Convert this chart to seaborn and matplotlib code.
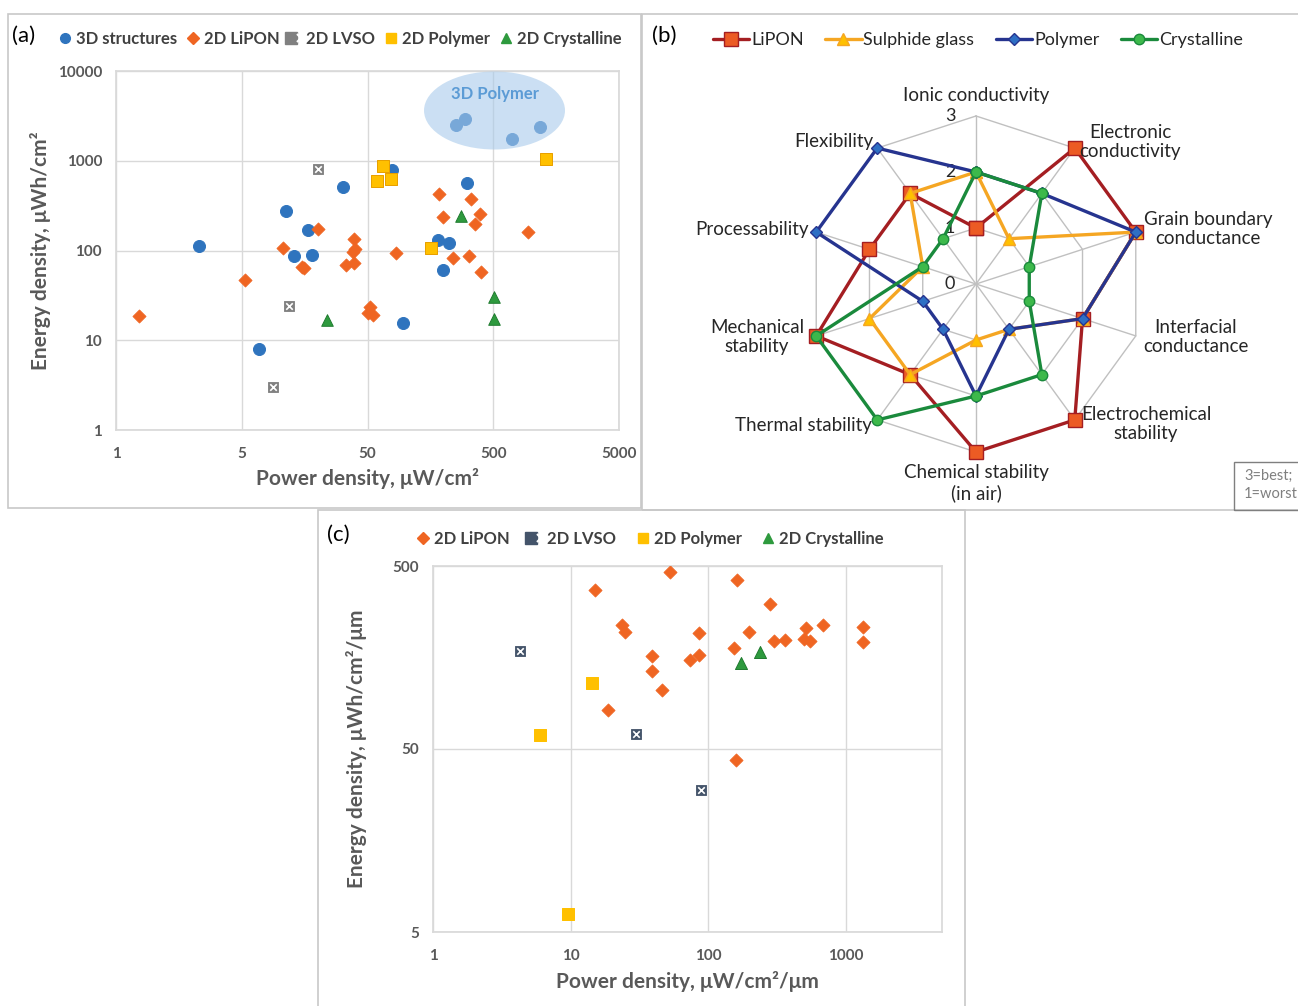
import numpy as np
import matplotlib
matplotlib.use("Agg")
import matplotlib.pyplot as plt
import seaborn as sns
from matplotlib.patches import Ellipse, Rectangle
from matplotlib.lines import Line2D
from matplotlib.legend_handler import HandlerTuple
from matplotlib.ticker import NullLocator, FixedLocator, FixedFormatter

# ---- panel (a): areal energy vs power density ----
a_3d_power = [2.3, 11.2, 16.9, 13.0, 18.2, 32, 6.9, 78, 309, 181, 224, 199, 96, 253, 296, 705, 1183]
a_3d_energy = [112, 277, 171, 87, 90, 510, 7.9, 783, 565, 130, 120, 60, 15.6, 2500, 2920, 1760, 2360]
a_lipon_power = [0.76, 5.3, 10.7, 15.0, 15.7, 20.1, 39, 40, 38.6, 33.7, 39.3, 52.3, 50.2, 55,
                 84, 185, 334, 200, 390, 360, 945, 239, 319, 397]
a_lipon_energy = [18.8, 46.6, 107, 66, 64, 175, 134, 103, 95.5, 69, 73, 23.3, 20, 19.1,
                  93, 423, 372, 234, 255, 197, 162, 83, 87.5, 57.6]
a_lvso_power = [20.1, 11.9, 8.9]
a_lvso_energy = [803, 24.3, 3.0]
a_poly_power = [66.8, 59.8, 76.5, 160, 1306]
a_poly_energy = [874, 600, 626, 107, 1038]
a_cryst_power = [23.9, 275, 510, 510]
a_cryst_energy = [16.8, 242, 30.6, 17.1]
a_xticks = [0.5, 5, 50, 500, 5000]
a_xticklabels = ["1", "5", "50", "500", "5000"]
a_yticks = [1, 10, 100, 1000, 10000]
a_yticklabels = ["1", "10", "100", "1000", "10000"]

# ---- panel (b): radar ----
radar_categories = ["Ionic conductivity", "Electronic\nconductivity", "Grain boundary\nconductance",
                    "Interfacial\nconductance", "Electrochemical\nstability", "Chemical stability\n(in air)",
                    "Thermal stability", "Mechanical\nstability", "Processability", "Flexibility"]
radar_lipon = [1, 3, 3, 2, 3, 3, 2, 3, 2, 2]
radar_sulphide = [2, 1, 3, 2, 1, 1, 2, 2, 1, 2]
radar_polymer = [2, 2, 3, 2, 1, 2, 1, 1, 3, 3]
radar_crystalline = [2, 2, 1, 1, 2, 2, 3, 3, 1, 1]

# ---- panel (c): volumetric energy vs power density ----
c_lipon_power = [52.5, 15.1, 23.6, 25.0, 86.3, 39.3, 38.8, 74.2, 86.3, 46.5, 18.7, 163, 279, 197,
                 154, 299, 361, 517, 494, 549, 683, 1343, 1343, 160]
c_lipon_energy = [462, 371, 237, 218, 214, 161, 134, 153, 163, 105, 81.6, 418, 311, 219,
                  179, 195, 197, 229, 199, 194, 238, 233, 192, 43.7]
c_lvso_power = [4.3, 29.7, 88.2]
c_lvso_energy = [172, 60.4, 29.7]
c_poly_power = [14.2, 6.0, 9.5]
c_poly_energy = [115, 59.6, 6.3]
c_cryst_power = [172, 238]
c_cryst_energy = [148, 169]
c_xticks = [1, 10, 100, 1000]
c_yticks = [5, 50, 500]

BLUE = "#2F74BE"
ORANGE = "#EF6522"
YELLOW = "#FFC000"
GREEN = "#2E9A3E"
GRAY_A = "#808080"
GRAY_C = "#44546A"
TXT = "#595959"

sns.set_theme(style="white")
plt.rcParams["font.family"] = ["Lato", "DejaVu Sans"]

W, H = 1298, 1006
fig = plt.figure(figsize=(W / 100, H / 100), dpi=100)


def rect(l, t, r, b):
    return [l / W, 1 - b / H, (r - l) / W, (b - t) / H]


def fx(x):
    return x / W


def fy(y):
    return 1 - y / H


# panel frames
for (l, t, r, b) in [(8, 14, 641, 508), (642, 14, 1310, 510), (318, 510, 965, 1012)]:
    fig.add_artist(Rectangle((fx(l), fy(b)), (r - l) / W, (b - t) / H, transform=fig.transFigure,
                             fill=False, ec="#C8C8C8", lw=1.2))


def style_log_axes(ax, xt, xl, yt, yl):
    ax.set_xscale("log")
    ax.set_yscale("log")
    ax.xaxis.set_major_locator(FixedLocator(xt))
    ax.xaxis.set_major_formatter(FixedFormatter(xl))
    ax.yaxis.set_major_locator(FixedLocator(yt))
    ax.yaxis.set_major_formatter(FixedFormatter(yl))
    ax.xaxis.set_minor_locator(NullLocator())
    ax.yaxis.set_minor_locator(NullLocator())
    ax.grid(True, which="major", color="#D9D9D9", lw=1)
    ax.tick_params(length=0, labelsize=11, labelcolor=TXT)
    ax.tick_params(axis="x", pad=12)
    ax.tick_params(axis="y", pad=10)
    for s in ax.spines.values():
        s.set_color("#D9D9D9")
    for lab in ax.get_xticklabels() + ax.get_yticklabels():
        lab.set_fontweight("bold")


def lvso(ax, x, y, face):
    sns.scatterplot(x=x, y=y, ax=ax, marker="s", s=60, color=face, edgecolor=face, zorder=3)
    sns.scatterplot(x=x, y=y, ax=ax, marker="x", s=22, color="white", linewidth=1.2, zorder=4)


def lvso_handle(face):
    return (Line2D([], [], ls="", marker="s", ms=8, color=face),
            Line2D([], [], ls="", marker="x", ms=5.5, mew=1.5, color="white"))


# ---------------- (a) ----------------
ax = fig.add_axes(rect(116, 71, 619, 430))
sns.scatterplot(x=a_3d_power, y=a_3d_energy, ax=ax, marker="o", s=75, color=BLUE, edgecolor=BLUE, zorder=3)
sns.scatterplot(x=a_lipon_power, y=a_lipon_energy, ax=ax, marker="D", s=45, color=ORANGE, edgecolor=ORANGE, zorder=3)
lvso(ax, a_lvso_power, a_lvso_energy, GRAY_A)
sns.scatterplot(x=a_poly_power, y=a_poly_energy, ax=ax, marker="s", s=80, color=YELLOW, edgecolor="#E8A000", zorder=3)
sns.scatterplot(x=a_cryst_power, y=a_cryst_energy, ax=ax, marker="^", s=70, color=GREEN, edgecolor="#1E7A2E", zorder=3)
style_log_axes(ax, a_xticks, a_xticklabels, a_yticks, a_yticklabels)
ax.set_xlim(0.5, 5000)
ax.set_ylim(1, 10000)
ax.set_xlabel("Power density, μW/cm²", fontsize=15, fontweight="bold", color=TXT, labelpad=5)
ax.set_ylabel("Energy density, μWh/cm²", fontsize=15, fontweight="bold", color=TXT, labelpad=5)
ax.add_patch(Ellipse((0.7525, 0.89), 0.2803, 0.2173, transform=ax.transAxes,
                     fc="#A9CBEB", ec="none", alpha=0.6, zorder=5))
ax.text(0.7525, 0.935, "3D Polymer", transform=ax.transAxes, ha="center", va="center",
        fontsize=12, fontweight="bold", color="#5B9BD5", zorder=6)

fig.text(fx(12), fy(36), "(a)", fontsize=16, va="center", color="black")
h_a = [Line2D([], [], ls="", marker="o", ms=7, color=BLUE),
       Line2D([], [], ls="", marker="D", ms=6, color=ORANGE),
       lvso_handle(GRAY_A),
       Line2D([], [], ls="", marker="s", ms=7, color=YELLOW),
       Line2D([], [], ls="", marker="^", ms=7, color=GREEN)]
leg = fig.legend(h_a, ["3D structures", "2D LiPON", "2D LVSO", "2D Polymer", "2D Crystalline"],
                 loc="center", bbox_to_anchor=(fx(340), fy(39)), ncol=5, frameon=False,
                 handlelength=0.8, handletextpad=0.25, columnspacing=0.55, fontsize=12,
                 handler_map={tuple: HandlerTuple(ndivide=None)})
for t in leg.get_texts():
    t.set_fontweight("bold")
    t.set_color("#404040")

# ---------------- (b) radar ----------------
axr = fig.add_axes(rect(808, 116, 1144, 452), projection="polar")
axr.set_theta_zero_location("N")
axr.set_theta_direction(-1)
n = len(radar_categories)
theta = np.linspace(0, 2 * np.pi, n, endpoint=False)
theta_c = np.append(theta, theta[0])
for r in [1, 2, 3]:
    axr.plot(theta_c, [r] * (n + 1), color="#C0C0C0", lw=1, zorder=1, clip_on=False)
for t in theta:
    axr.plot([t, t], [0, 3], color="#C0C0C0", lw=1, zorder=1, clip_on=False)

series = [
    ("LiPON", radar_lipon, "#A41E22", "s", 10, "#EC5B24", "#A41E22"),
    ("Sulphide glass", radar_sulphide, "#F5A623", "^", 9, "#FFC000", "#F5A623"),
    ("Polymer", radar_polymer, "#26348F", "D", 6.5, "#2E6FC4", "#26348F"),
    ("Crystalline", radar_crystalline, "#1A8A3C", "o", 7.5, "#3DB94B", "#1A8A3C"),
]
h_b = []
for i, (name, vals, lc, mk, ms, mfc, mec) in enumerate(series):
    sns.lineplot(x=theta_c, y=vals + vals[:1], ax=axr, sort=False, estimator=None, color=lc, lw=2.4,
                 marker=mk, markersize=ms, markerfacecolor=mfc, markeredgecolor=mec,
                 markeredgewidth=1, zorder=3 + i, clip_on=False)
    h_b.append(Line2D([], [], color=lc, lw=2.4, marker=mk, ms=ms, mfc=mfc, mec=mec))
axr.set_ylim(0, 3)
axr.set_xticks([])
axr.set_yticks([])
axr.grid(False)
axr.spines["polar"].set_visible(False)
axr.set_facecolor("none")
axr.set_xlabel("")
axr.set_ylabel("")
for v in [0, 1, 2, 3]:
    axr.annotate(str(v), xy=(0, v), xytext=(-26, 0), textcoords="offset pixels",
                 ha="center", va="center", fontsize=13, color="#262626")

cat_pos = [(976, 95), (1130, 142), (1208, 229), (1196, 337), (1146, 424),
           (976, 483), (803, 425), (757, 337), (752, 230), (834, 142)]
for (px_, py_), txt in zip(cat_pos, radar_categories):
    fig.text(fx(px_), fy(py_), txt, ha="center", va="center", fontsize=13.5, color="#262626",
             linespacing=1.2)

fig.text(fx(652), fy(36), "(b)", fontsize=16, va="center", color="black")
fig.legend(h_b, [s[0] for s in series], loc="center", bbox_to_anchor=(fx(978), fy(40)), ncol=4,
           frameon=False, handlelength=2.0, handletextpad=0.1, columnspacing=1.2, fontsize=13)
fig.add_artist(Rectangle((fx(1234), fy(510)), 70 / W, 48 / H, transform=fig.transFigure,
                         fill=False, ec="#7F7F7F", lw=1))
fig.text(fx(1244), fy(485), "3=best;\n1=worst", fontsize=10.5, color="#7F7F7F", va="center",
         linespacing=1.3)

# ---------------- (c) ----------------
axc = fig.add_axes(rect(433, 566, 942, 932))
sns.scatterplot(x=c_lipon_power, y=c_lipon_energy, ax=axc, marker="D", s=45, color=ORANGE, edgecolor=ORANGE, zorder=3)
lvso(axc, c_lvso_power, c_lvso_energy, GRAY_C)
sns.scatterplot(x=c_poly_power, y=c_poly_energy, ax=axc, marker="s", s=80, color=YELLOW, edgecolor=YELLOW, zorder=3)
sns.scatterplot(x=c_cryst_power, y=c_cryst_energy, ax=axc, marker="^", s=75, color=GREEN, edgecolor="#1E7A2E", zorder=3)
style_log_axes(axc, c_xticks, [str(v) for v in c_xticks], c_yticks, [str(v) for v in c_yticks])
axc.set_xlim(1, 5000)
axc.set_ylim(5, 500)
axc.set_xlabel("Power density, μW/cm²/μm", fontsize=15, fontweight="bold", color=TXT, labelpad=6)
axc.set_ylabel("Energy density, μWh/cm²/μm", fontsize=15, fontweight="bold", color=TXT, labelpad=18)

fig.text(fx(327), fy(535), "(c)", fontsize=16, va="center", color="black")
h_c = [Line2D([], [], ls="", marker="D", ms=6, color=ORANGE),
       lvso_handle(GRAY_C),
       Line2D([], [], ls="", marker="s", ms=7, color=YELLOW),
       Line2D([], [], ls="", marker="^", ms=7, color=GREEN)]
leg = fig.legend(h_c, ["2D LiPON", "2D LVSO", "2D Polymer", "2D Crystalline"],
                 loc="center", bbox_to_anchor=(fx(650), fy(539)), ncol=4, frameon=False,
                 handlelength=0.8, handletextpad=0.25, columnspacing=1.2, fontsize=12,
                 handler_map={tuple: HandlerTuple(ndivide=None)})
for t in leg.get_texts():
    t.set_fontweight("bold")
    t.set_color("#404040")

fig.savefig("out.png", dpi=100, facecolor="white")
